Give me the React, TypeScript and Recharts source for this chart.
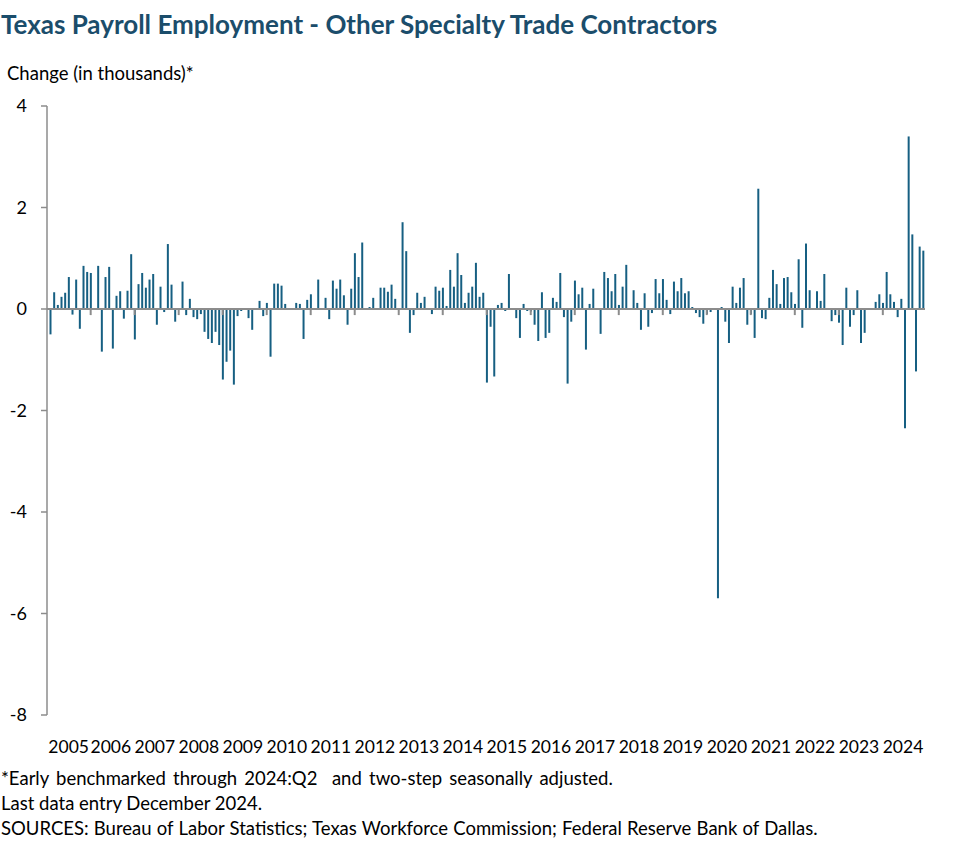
import React from "react";
import { BarChart, Bar, XAxis, YAxis, ReferenceLine } from "recharts";

// monthly change in jobs (thousands); 2005 starts in February
const v2005 = [-0.5, 0.33, 0.08, 0.24, 0.32, 0.63, -0.11, 0.58, -0.39, 0.85, 0.73];
const v2006 = [0.71, 0, 0.85, -0.84, 0.63, 0.83, -0.78, 0.26, 0.35, -0.19, 0.36, 1.08];
const v2007 = [-0.6, 0.49, 0.71, 0.42, 0.58, 0.69, -0.31, 0.44, -0.06, 1.28, 0.48, -0.25];
const v2008 = [0, 0.54, -0.12, 0.2, -0.16, -0.2, -0.1, -0.45, -0.59, -0.67, -0.45, -0.71];
const v2009 = [-1.39, -1.04, -0.82, -1.49, -0.14, -0.04, 0, -0.18, -0.41, 0, 0.16, -0.14];
const v2010 = [0.12, -0.94, 0.5, 0.5, 0.46, 0.1, 0, 0, 0.12, 0.1, -0.59, 0.18];
const v2011 = [0.29, 0, 0.58, 0, 0.22, -0.2, 0.56, 0.4, 0.58, 0.27, -0.31, 0.4];
const v2012 = [1.1, 0.63, 1.31, 0, 0.04, 0.22, 0, 0.42, 0.42, 0.34, 0.48, 0.2];
const v2013 = [0, 1.71, 1.14, -0.47, -0.12, 0.32, 0.12, 0.24, 0, -0.1, 0.44, 0.36];
const v2014 = [0.42, 0.06, 0.77, 0.44, 1.1, 0.67, 0.12, 0.32, 0.44, 0.91, 0.24, 0.32];
const v2015 = [-1.45, -0.35, -1.33, 0.08, 0.12, -0.04, 0.69, 0, -0.18, -0.57, 0.1, -0.04];
const v2016 = [-0.05, -0.31, -0.63, 0.33, -0.57, -0.47, 0.22, 0.14, 0.71, -0.16, -1.47, -0.25];
const v2017 = [0.56, 0.29, 0.42, -0.8, 0.1, 0.4, 0, -0.49, 0.73, 0.61, 0.35, 0.69];
const v2018 = [0.08, 0.44, 0.87, 0, 0.37, 0.12, -0.41, 0.31, -0.35, -0.08, 0.59, 0.31];
const v2019 = [0.59, 0.18, -0.1, 0.54, 0.35, 0.61, 0.31, 0.35, 0.04, -0.08, -0.16, -0.29];
const v2020 = [-0.1, -0.06, 0, -5.7, 0.04, -0.25, -0.67, 0.44, 0.12, 0.42, 0.61, -0.31];
const v2021 = [-0.1, -0.57, 2.37, -0.18, -0.2, 0.22, 0.77, 0.49, 0.1, 0.61, 0.63, 0.33];
const v2022 = [0.1, 0.98, -0.37, 1.29, 0.37, 0, 0.35, 0.16, 0.69, 0, -0.24, -0.12];
const v2023 = [-0.27, -0.71, 0.42, -0.35, -0.12, 0.37, -0.67, -0.47, 0, 0, 0.14, 0.29];
const v2024 = [0.12, 0.73, 0.29, 0.14, -0.16, 0.2, -2.35, 3.4, 1.47, -1.23, 1.23, 1.15];

const years = [
  2005, 2006, 2007, 2008, 2009, 2010, 2011, 2012, 2013, 2014,
  2015, 2016, 2017, 2018, 2019, 2020, 2021, 2022, 2023, 2024,
];
const yearValues = [
  v2005, v2006, v2007, v2008, v2009, v2010, v2011, v2012, v2013, v2014,
  v2015, v2016, v2017, v2018, v2019, v2020, v2021, v2022, v2023, v2024,
];
const yTicks = [-8, -6, -4, -2, 0, 2, 4];

const pad = (m: number) => (m < 10 ? "0" + m : "" + m);

const data: { month: string; change: number }[] = [];
years.forEach((yr, i) => {
  const vals = yearValues[i];
  const first = 13 - vals.length;
  vals.forEach((v, j) => data.push({ month: `${yr}-${pad(first + j)}`, change: v }));
});

const labelTicks = years.map((yr) => `${yr}-07`);
const janTicks = years.slice(1).map((yr) => `${yr}-01`);

const FONT = "Lato, 'Liberation Sans', sans-serif";
const GREY = "#8c8c8c";
const BAR = "#165f82";
const HALF_BAND = 1.83;

const YearTick = (props: any) => {
  const { x, y, payload } = props;
  const yr = String(payload.value).slice(0, 4);
  const shift = yr === String(years[0]) ? 0 : -HALF_BAND;
  return (
    <text x={x + shift} y={y + 30} textAnchor="middle" fontSize={17.5} fontFamily={FONT} fill="#000">
      {yr}
    </text>
  );
};

const note = { fontSize: 18.5, fontFamily: FONT, fill: "#000", style: { whiteSpace: "pre" as const } };

export default function App() {
  return (
    <div style={{ position: "absolute", left: 0, top: 0, width: 977, height: 864, background: "#fff" }}>
      <BarChart
        width={977}
        height={864}
        data={data}
        margin={{ top: 106, right: 52, bottom: 113, left: 0 }}
        barCategoryGap={0}
      >
        <XAxis
          dataKey="month"
          ticks={labelTicks}
          interval={0}
          tick={<YearTick />}
          axisLine={false}
          tickLine={false}
          height={36}
          padding={{ left: 1.5, right: 0 }}
        />
        <YAxis
          width={47}
          domain={[-8, 4]}
          ticks={yTicks}
          interval={0}
          tick={{ fill: "#000", fontSize: 18, fontFamily: FONT }}
          tickSize={6}
          tickMargin={14}
          axisLine={{ stroke: GREY, strokeWidth: 1.5 }}
          tickLine={{ stroke: GREY, strokeWidth: 1.5 }}
        />
        <Bar dataKey="change" fill={BAR} barSize={2} isAnimationActive={false} />
        <ReferenceLine y={0} stroke={GREY} strokeWidth={2} />
        {janTicks.map((m) => (
          <ReferenceLine
            key={m}
            segment={[
              { x: m, y: 0 },
              { x: m, y: -0.12 },
            ]}
            stroke={GREY}
            strokeWidth={2}
          />
        ))}
      </BarChart>
      <svg
        width={977}
        height={864}
        style={{ position: "absolute", left: 0, top: 0, pointerEvents: "none" }}
      >
        <text x={1} y={34} fontSize={26} fontWeight={700} fontFamily={FONT} fill="#1b4d6b">
          Texas Payroll Employment - Other Specialty Trade Contractors
        </text>
        <text x={7} y={80} fontSize={18.5} fontFamily={FONT} fill="#000">
          Change (in thousands)*
        </text>
        <text x={1} y={785} {...note} wordSpacing={2.5}>
          {"*Early benchmarked through 2024:Q2  and two-step seasonally adjusted."}
        </text>
        <text x={1} y={810} {...note}>
          Last data entry December 2024.
        </text>
        <text x={1} y={835} {...note} wordSpacing={0.5}>
          {"SOURCES: Bureau of Labor Statistics; Texas Workforce Commission; Federal Reserve Bank of Dallas."}
        </text>
      </svg>
    </div>
  );
}
